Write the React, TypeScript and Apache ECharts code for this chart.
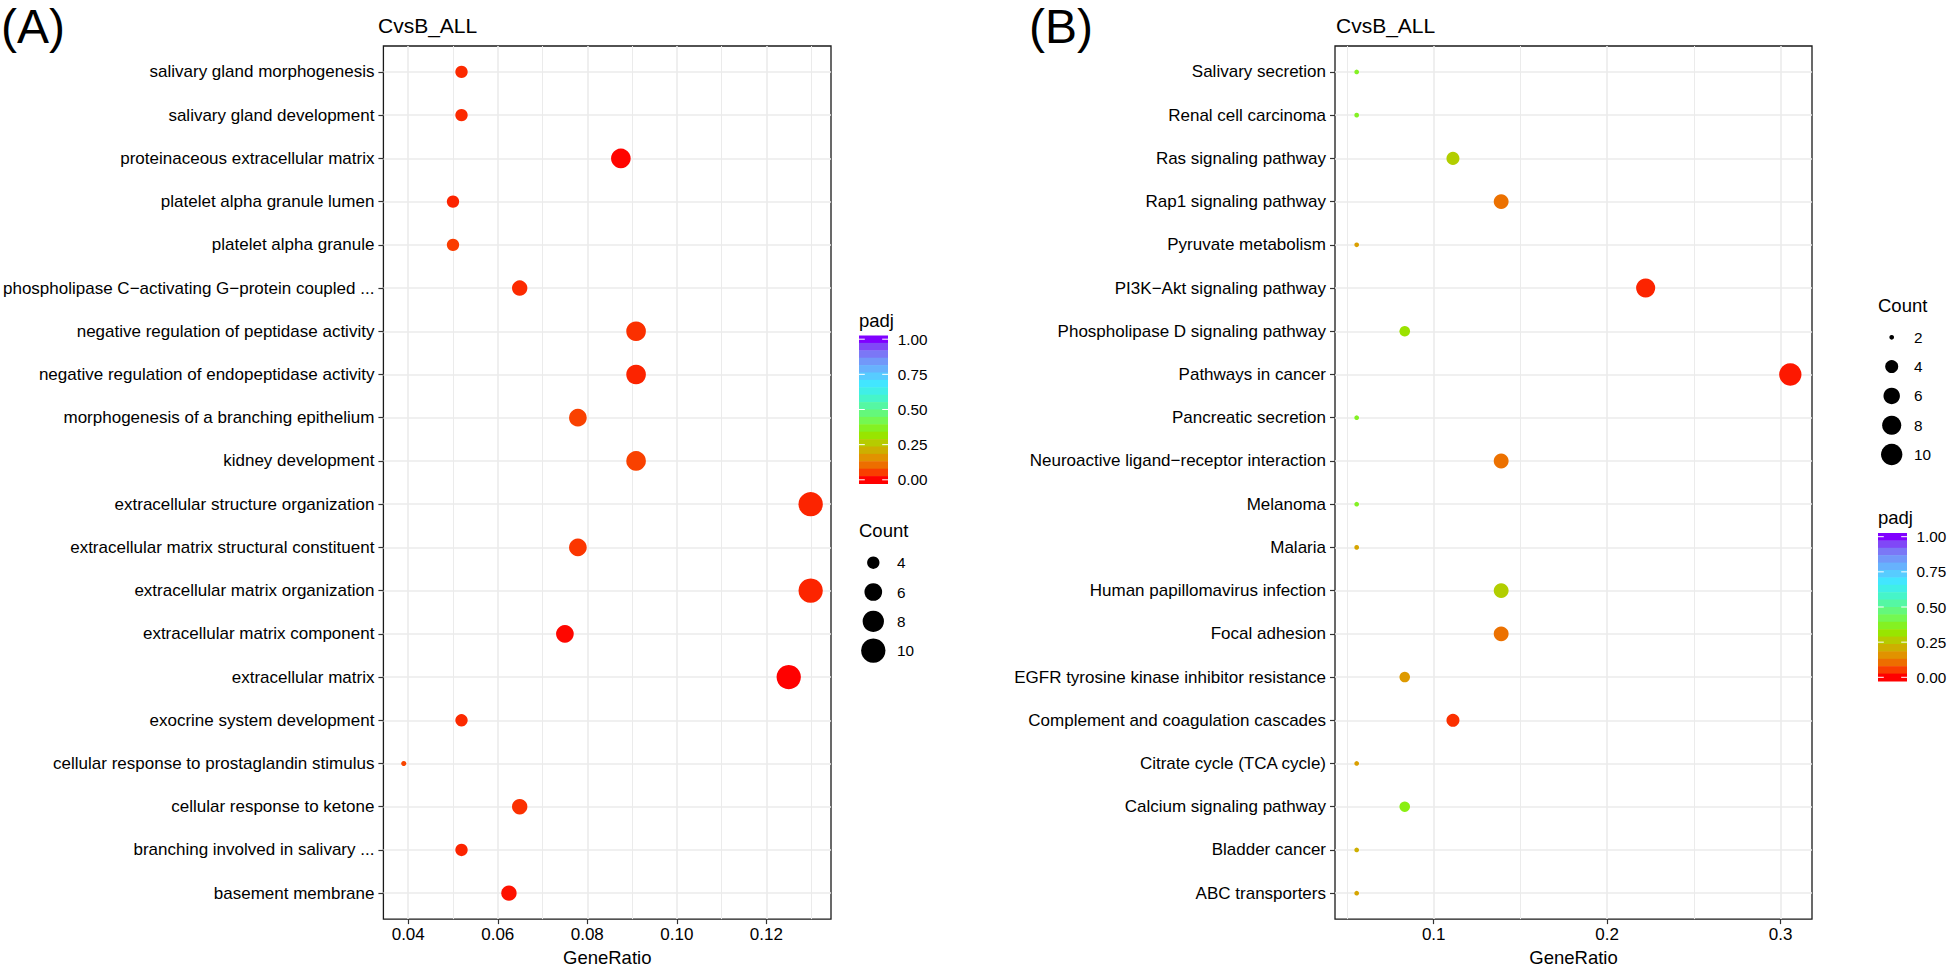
import React, { useEffect, useRef } from "react";
import * as echarts from "echarts";

// ---------- DATA ----------
const termsA = [
  "salivary gland morphogenesis",
  "salivary gland development",
  "proteinaceous extracellular matrix",
  "platelet alpha granule lumen",
  "platelet alpha granule",
  "phospholipase C\u2212activating G\u2212protein coupled ...",
  "negative regulation of peptidase activity",
  "negative regulation of endopeptidase activity",
  "morphogenesis of a branching epithelium",
  "kidney development",
  "extracellular structure organization",
  "extracellular matrix structural constituent",
  "extracellular matrix organization",
  "extracellular matrix component",
  "extracellular matrix",
  "exocrine system development",
  "cellular response to prostaglandin stimulus",
  "cellular response to ketone",
  "branching involved in salivary ...",
  "basement membrane",
];
const ratioA = [0.0519, 0.0519, 0.0875, 0.05, 0.05, 0.0649, 0.0909, 0.0909, 0.0779, 0.0909, 0.1299, 0.0779, 0.1299, 0.075, 0.125, 0.0519, 0.039, 0.0649, 0.0519, 0.0625];
const countA = [4, 4, 7, 4, 4, 5, 7, 7, 6, 7, 10, 6, 10, 6, 10, 4, 3, 5, 4, 5];
const padjA = [0.035, 0.035, 0.003, 0.03, 0.05, 0.035, 0.04, 0.03, 0.055, 0.055, 0.03, 0.045, 0.03, 0.006, 0.001, 0.035, 0.06, 0.04, 0.03, 0.015];

const termsB = [
  "Salivary secretion",
  "Renal cell carcinoma",
  "Ras signaling pathway",
  "Rap1 signaling pathway",
  "Pyruvate metabolism",
  "PI3K\u2212Akt signaling pathway",
  "Phospholipase D signaling pathway",
  "Pathways in cancer",
  "Pancreatic secretion",
  "Neuroactive ligand\u2212receptor interaction",
  "Melanoma",
  "Malaria",
  "Human papillomavirus infection",
  "Focal adhesion",
  "EGFR tyrosine kinase inhibitor resistance",
  "Complement and coagulation cascades",
  "Citrate cycle (TCA cycle)",
  "Calcium signaling pathway",
  "Bladder cancer",
  "ABC transporters",
];
const ratioB = [0.0556, 0.0556, 0.1111, 0.1389, 0.0556, 0.2222, 0.0833, 0.3056, 0.0556, 0.1389, 0.0556, 0.0556, 0.1389, 0.1389, 0.0833, 0.1111, 0.0556, 0.0833, 0.0556, 0.0556];
const countB = [2, 2, 4, 5, 2, 8, 3, 11, 2, 5, 2, 2, 5, 5, 3, 4, 2, 3, 2, 2];
const padjB = [0.37, 0.37, 0.27, 0.11, 0.18, 0.03, 0.31, 0.02, 0.37, 0.11, 0.37, 0.19, 0.27, 0.11, 0.17, 0.04, 0.18, 0.35, 0.21, 0.19];

const majorA = [0.04, 0.06, 0.08, 0.1, 0.12];
const minorA = [0.05, 0.07, 0.09, 0.11, 0.13];
const majorB = [0.1, 0.2, 0.3];
const minorB = [0.05, 0.15, 0.25];
const countBreaksA = [4, 6, 8, 10];
const countBreaksB = [2, 4, 6, 8, 10];
const padjBreaks = [1, 0.75, 0.5, 0.25, 0];

const panelTitle = "CvsB_ALL";
const axisTitle = "GeneRatio";

// ---------- STYLE ----------
const FONT = "'Liberation Sans', Arial, Helvetica, sans-serif";
const GRID_COL = "#EBEBEB";
const colorStops: [number, string][] = [
  [0.0, "#FF0000"],
  [0.05, "#FA3C00"],
  [0.1, "#EE6A00"],
  [0.17, "#DE9A00"],
  [0.25, "#BDC400"],
  [0.33, "#90EC00"],
  [0.42, "#74F850"],
  [0.5, "#5CF890"],
  [0.6, "#40F4D8"],
  [0.68, "#40E8FF"],
  [0.76, "#60C0FF"],
  [0.85, "#7494F8"],
  [0.93, "#8060F4"],
  [1.0, "#8000FF"],
];
function hex2rgb(h: string) {
  return [parseInt(h.slice(1, 3), 16), parseInt(h.slice(3, 5), 16), parseInt(h.slice(5, 7), 16)];
}
function padjColor(v: number) {
  for (let i = 1; i < colorStops.length; i++) {
    if (v <= colorStops[i][0]) {
      const [v0, c0] = colorStops[i - 1];
      const [v1, c1] = colorStops[i];
      const t = (v - v0) / (v1 - v0);
      const a = hex2rgb(c0), b = hex2rgb(c1);
      const c = a.map((x, j) => Math.round(x + (b[j] - x) * t));
      return `rgb(${c[0]},${c[1]},${c[2]})`;
    }
  }
  return colorStops[colorStops.length - 1][1];
}
function expand(vals: number[]) {
  const mn = Math.min(...vals), mx = Math.max(...vals), d = (mx - mn) * 0.05;
  return [mn - d, mx + d];
}
function diam(c: number, cmin: number, cmax: number, k: number) {
  const s = 1 + 5 * Math.sqrt((c - cmin) / (cmax - cmin));
  return (s * 2.845 + 0.945) * k;
}

const idx = termsA.map((_, i) => i);

function txt(text: string, x: number, y: number, size: number, align = "left", color = "#000") {
  return {
    type: "text",
    x,
    y,
    silent: true,
    style: { text, fontSize: size, fontFamily: FONT, fill: color, align, verticalAlign: "middle" },
  };
}

function legendGraphics(
  countBreaks: number[], cmin: number, cmax: number, k: number,
  countTitleY: number, countY0: number, padjTitleY: number, barTop: number,
  left: number, circX: number, labX: number, barLabX: number
) {
  const els: any[] = [];
  els.push(txt("Count", left, countTitleY, 18.5));
  countBreaks.forEach((c, i) => {
    const y = countY0 + i * 29.3;
    els.push({ type: "circle", silent: true, shape: { cx: circX, cy: y, r: diam(c, cmin, cmax, k) / 2 }, style: { fill: "#000" } });
    els.push(txt(String(c), labX, y, 15.3));
  });
  els.push(txt("padj", left, padjTitleY, 18.5));
  const nbin = 20, bh = 148, bw = 29, binH = bh / nbin;
  for (let i = 0; i < nbin; i++) {
    const v = 1 - i / (nbin - 1);
    els.push({ type: "rect", silent: true, shape: { x: left, y: barTop + i * binH, width: bw, height: binH + 0.5 }, style: { fill: padjColor(v) } });
  }
  padjBreaks.forEach((v) => {
    const y = barTop + binH / 2 + (1 - v) * (bh - binH);
    els.push({ type: "line", silent: true, shape: { x1: left, y1: y, x2: left + bw / 5, y2: y }, style: { stroke: "#fff", lineWidth: 1 } });
    els.push({ type: "line", silent: true, shape: { x1: left + bw - bw / 5, y1: y, x2: left + bw, y2: y }, style: { stroke: "#fff", lineWidth: 1 } });
    els.push(txt(v.toFixed(2), barLabX, y, 15.3));
  });
  return els;
}

export default function App() {
  const ref = useRef<HTMLDivElement>(null);
  useEffect(() => {
    if (!ref.current) return;
    const chart = echarts.init(ref.current, null, { renderer: "svg" });
    const xA = expand(ratioA);
    const xB = expand(ratioB);
    const cminA = Math.min(...countA), cmaxA = Math.max(...countA);
    const cminB = Math.min(...countB), cmaxB = Math.max(...countB);
    const kA = 1.35, kB = 1.24;

    const gridBase = { show: true, borderColor: "#1a1a1a", borderWidth: 1.3, backgroundColor: "rgba(0,0,0,0)", containLabel: false };
    const majorX = (gi: number, ext: number[], ticks: number[], dec: number) => ({
      gridIndex: gi, type: "value", min: ext[0], max: ext[1], position: "bottom",
      name: axisTitle, nameLocation: "middle", nameGap: 27,
      nameTextStyle: { fontSize: 18.5, color: "#000", fontFamily: FONT },
      axisLine: { show: false, onZero: false },
      axisTick: { show: true, length: 5, customValues: ticks, lineStyle: { color: "#333", width: 1.2 } },
      axisLabel: { customValues: ticks, formatter: (v: number) => v.toFixed(dec), fontSize: 17, color: "#000", margin: 7, fontFamily: FONT },
      splitLine: { show: true, lineStyle: { color: GRID_COL, width: 1.6 } },
    });
    const minorX = (gi: number, ext: number[], ticks: number[]) => ({
      gridIndex: gi, type: "value", min: ext[0], max: ext[1], position: "top",
      axisLine: { show: false, onZero: false },
      axisTick: { show: false, length: 0, customValues: ticks, lineStyle: { color: "rgba(0,0,0,0)", width: 0 } },
      axisLabel: { show: false, customValues: ticks },
      splitLine: { show: true, lineStyle: { color: GRID_COL, width: 1 } },
    });
    const yAx = (gi: number, terms: string[]) => ({
      gridIndex: gi, type: "value", inverse: true, min: -0.6, max: terms.length - 0.4,
      axisLine: { show: false, onZero: false },
      axisTick: { show: true, length: 5, customValues: idx, lineStyle: { color: "#333", width: 1.2 } },
      axisLabel: { customValues: idx, formatter: (v: number) => terms[Math.round(v)] ?? "", fontSize: 17, color: "#000", margin: 9, fontFamily: FONT },
      splitLine: { show: true, lineStyle: { color: GRID_COL, width: 1.6 } },
    });

    const graphic: any[] = [
      txt("(A)", 1, 26, 48),
      txt("(B)", 1029, 26, 48),
      txt(panelTitle, 378, 25, 21),
      txt(panelTitle, 1336, 25, 21),
      ...legendGraphics(countBreaksA, cminA, cmaxA, kA, 530, 562.7, 320.7, 335.5, 859, 873.3, 897, 897.7),
      ...legendGraphics(countBreaksB, cminB, cmaxB, kB, 305, 337.3, 517, 533, 1878, 1891.7, 1914, 1916.5),
    ];

    chart.setOption({
      animation: false,
      textStyle: { fontFamily: FONT },
      grid: [
        { ...gridBase, left: 378, top: 46, width: 453, height: 883 },
        { ...gridBase, left: 1335, top: 46, width: 477, height: 883 },
      ],
      xAxis: [majorX(0, xA, majorA, 2), minorX(0, xA, minorA), majorX(1, xB, majorB, 1), minorX(1, xB, minorB)],
      yAxis: [yAx(0, termsA), yAx(1, termsB)],
      series: [
        {
          type: "scatter", xAxisIndex: 0, yAxisIndex: 0, z: 5,
          data: ratioA.map((r, i) => [r, i, countA[i], padjA[i]]),
          symbolSize: (v: number[]) => diam(v[2], cminA, cmaxA, kA),
          itemStyle: { color: (p: any) => padjColor(p.data[3]), opacity: 1 },
          emphasis: { disabled: true },
        },
        {
          type: "scatter", xAxisIndex: 2, yAxisIndex: 1, z: 5,
          data: ratioB.map((r, i) => [r, i, countB[i], padjB[i]]),
          symbolSize: (v: number[]) => diam(v[2], cminB, cmaxB, kB),
          itemStyle: { color: (p: any) => padjColor(p.data[3]), opacity: 1 },
          emphasis: { disabled: true },
        },
      ],
      graphic,
    });
    return () => chart.dispose();
  }, []);
  return (
    <div
      ref={ref}
      style={{ position: "fixed", left: 0, top: 0, width: 1952, height: 972, background: "#fff" }}
    />
  );
}
